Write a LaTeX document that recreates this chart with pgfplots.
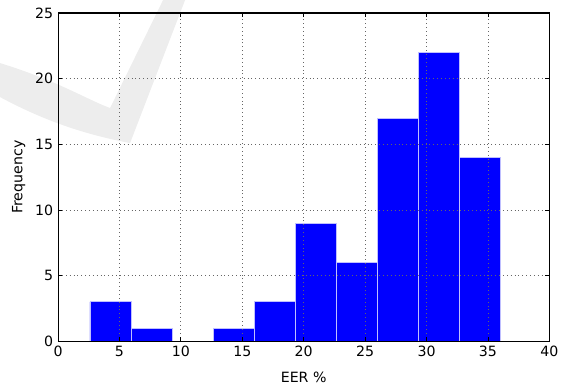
\documentclass[border=0pt]{standalone}
\usepackage{pgfplots}
\pgfplotsset{compat=1.18}
\usepackage{fontspec}
\setmainfont{DejaVu Sans}
\begin{document}
\fontsize{10.6}{12.5}\selectfont
\begin{tikzpicture}
\useasboundingbox (-43.5pt,-33pt) rectangle (379.25pt,255.75pt);
% watermark
\fill[black!7] (-43.5pt,208.5pt) .. controls (0pt,195pt) and (20pt,182pt) .. (39pt,174.75pt)
  -- (78.75pt,255.75pt) -- (95.25pt,255.75pt) -- (54pt,148.5pt)
  .. controls (20pt,155pt) and (-10pt,165pt) .. (-43.5pt,183pt) -- cycle;
\begin{axis}[
  at={(0pt,0pt)}, anchor=south west,
  scale only axis, width=368.25pt, height=246pt,
  xmin=0, xmax=40, ymin=0, ymax=25,
  xtick={0,5,...,40}, ytick={0,5,...,25},
  /pgf/number format/assume math mode=true,
  tick align=inside, major tick length=3pt,
  tick style={black, line width=0.6pt},
  axis line style={black, line width=0.8pt},
  grid=major,
  major grid style={black!60, line width=0.55pt, dash pattern=on 0.6pt off 2.3pt},
  axis on top,
  xlabel={EER \%}, ylabel={Frequency},
  xlabel style={at={(axis description cs:0.5,0)}, anchor=center, yshift=-27pt},
  ylabel style={at={(axis description cs:0,0.5)}, anchor=center, yshift=29.5pt},
  ylabel shift=0pt,
]
\addplot[ybar interval, fill={rgb,255:red,0;green,0;blue,255}, draw=white!75!blue, line width=0.6pt]
coordinates {
(2.6,3) (5.94,1) (9.28,0) (12.62,1) (15.96,3) (19.3,9) (22.64,6) (25.98,17) (29.32,22) (32.66,14) (36.0,0)
};
\end{axis}
\end{tikzpicture}
\end{document}
